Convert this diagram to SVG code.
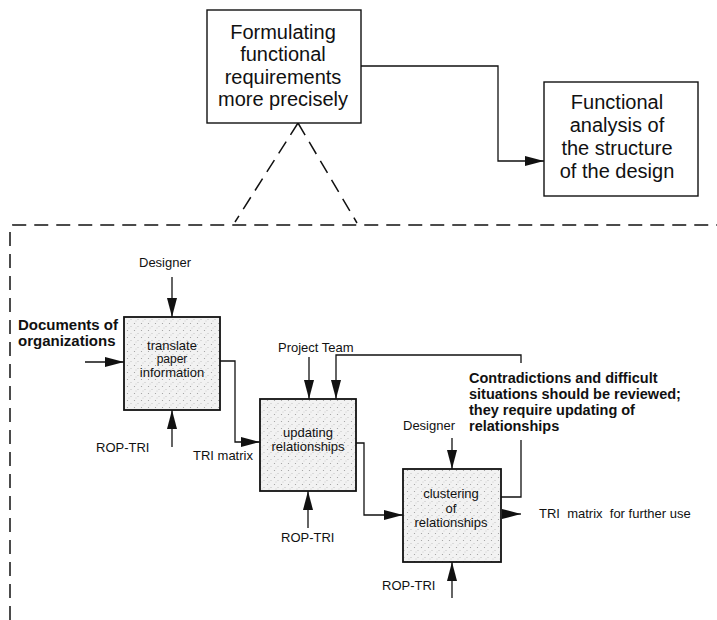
<svg xmlns="http://www.w3.org/2000/svg" width="717" height="620" viewBox="0 0 717 620">
  <defs>
    <style>
      text { font-family: "Liberation Sans", Arial, sans-serif; fill: #111; }
      .big { font-size: 20px; text-anchor: middle; }
      .inner { font-size: 13px; text-anchor: middle; }
      .lbl { font-size: 13px; }
      .note { font-size: 14.5px; font-weight: bold; }
      .box { fill: #fff; stroke: #111; stroke-width: 1.4; }
      .act { fill: url(#stipple); stroke: #111; stroke-width: 1.8; }
      .wire { fill: none; stroke: #111; stroke-width: 1.3; }
      .arrow { fill: none; stroke: #111; stroke-width: 1.3; marker-end: url(#head); }
      .dash { fill: none; stroke: #111; stroke-width: 1.5; stroke-dasharray: 14 8; }
    </style>
    <pattern id="stipple" width="7" height="7" patternUnits="userSpaceOnUse">
      <rect width="7" height="7" fill="#f2f2f2"/>
      <circle cx="1.5" cy="1.5" r="0.6" fill="#9a9a9a"/>
      <circle cx="5" cy="4.5" r="0.5" fill="#b0b0b0"/>
      <circle cx="3" cy="6" r="0.4" fill="#a5a5a5"/>
    </pattern>
    <marker id="head" markerWidth="19" markerHeight="10" refX="19" refY="5" orient="auto" markerUnits="userSpaceOnUse">
      <path d="M0,0 L19,5 L0,10 Z" fill="#111"/>
    </marker>
  </defs>

  <!-- decomposition frame -->
  <g id="frame">
    <path class="dash" d="M298,123 L235,222"/>
    <path class="dash" d="M298,123 L357,223"/>
    <path class="dash" d="M10,620 L10,228 Q10,225 13,225 L717,225"/>
  </g>

  <!-- connectors -->
  <g id="connectors">
    <path class="arrow" d="M361,66 H498 V161 H544"/>
    <path class="arrow" d="M172,277 V317"/>
    <path class="arrow" d="M85,362 H124"/>
    <path class="arrow" d="M172,447 V410"/>
    <path class="arrow" d="M220,361 H235 V442 H260"/>
    <path class="arrow" d="M309,357 V399"/>
    <path class="arrow" d="M521,363 V355 H336 V399"/>
    <path class="wire" d="M501,497 H521 V440"/>
    <path class="arrow" d="M308,528 V491"/>
    <path class="arrow" d="M356,443 H364 V515 H403"/>
    <path class="arrow" d="M452,438 V469"/>
    <path class="arrow" d="M452,598 V562"/>
    <path class="arrow" d="M502,514 H521"/>
  </g>

  <g id="node-formulating">
    <rect class="box" x="207" y="10" width="154" height="113"/>
    <text class="big" x="283" y="38.5">Formulating</text>
    <text class="big" x="283" y="61">functional</text>
    <text class="big" x="283" y="83.5">requirements</text>
    <text class="big" x="283" y="106">more precisely</text>
  </g>

  <g id="node-analysis">
    <rect class="box" x="544" y="82" width="154" height="114"/>
    <text class="big" x="617" y="109">Functional</text>
    <text class="big" x="617" y="132">analysis of</text>
    <text class="big" x="617" y="155">the structure</text>
    <text class="big" x="617" y="178">of the design</text>
  </g>

  <g id="node-translate">
    <rect class="act" x="124" y="317" width="96" height="93"/>
    <text class="inner" x="172" y="350">translate</text>
    <text class="inner" x="172" y="363" style="font-size:12px">paper</text>
    <text class="inner" x="172" y="377">information</text>
  </g>

  <g id="node-updating">
    <rect class="act" x="260" y="399" width="96" height="92"/>
    <text class="inner" x="308" y="437">updating</text>
    <text class="inner" x="308" y="451">relationships</text>
  </g>

  <g id="node-clustering">
    <rect class="act" x="403" y="469" width="98" height="93"/>
    <text class="inner" x="451" y="498">clustering</text>
    <text class="inner" x="451" y="512.5">of</text>
    <text class="inner" x="451" y="527">relationships</text>
  </g>

  <!-- labels -->
  <g id="labels">
    <text class="lbl" x="139" y="267">Designer</text>
    <text class="note" x="18" y="330" style="font-size:15px">Documents of</text>
    <text class="note" x="18" y="346" style="font-size:15px">organizations</text>
    <text class="lbl" x="96" y="452">ROP-TRI</text>
    <text class="lbl" x="193" y="460">TRI matrix</text>
    <text class="lbl" x="278" y="352">Project Team</text>
    <text class="lbl" x="281" y="542">ROP-TRI</text>
    <text class="lbl" x="403" y="430">Designer</text>
    <text class="lbl" x="382" y="590">ROP-TRI</text>
    <text class="note" x="469" y="383">Contradictions and difficult</text>
    <text class="note" x="469" y="399">situations should be reviewed;</text>
    <text class="note" x="469" y="415">they require updating of</text>
    <text class="note" x="469" y="431">relationships</text>
    <text class="lbl" x="539" y="518" xml:space="preserve">TRI  matrix  for further use</text>
  </g>
</svg>
